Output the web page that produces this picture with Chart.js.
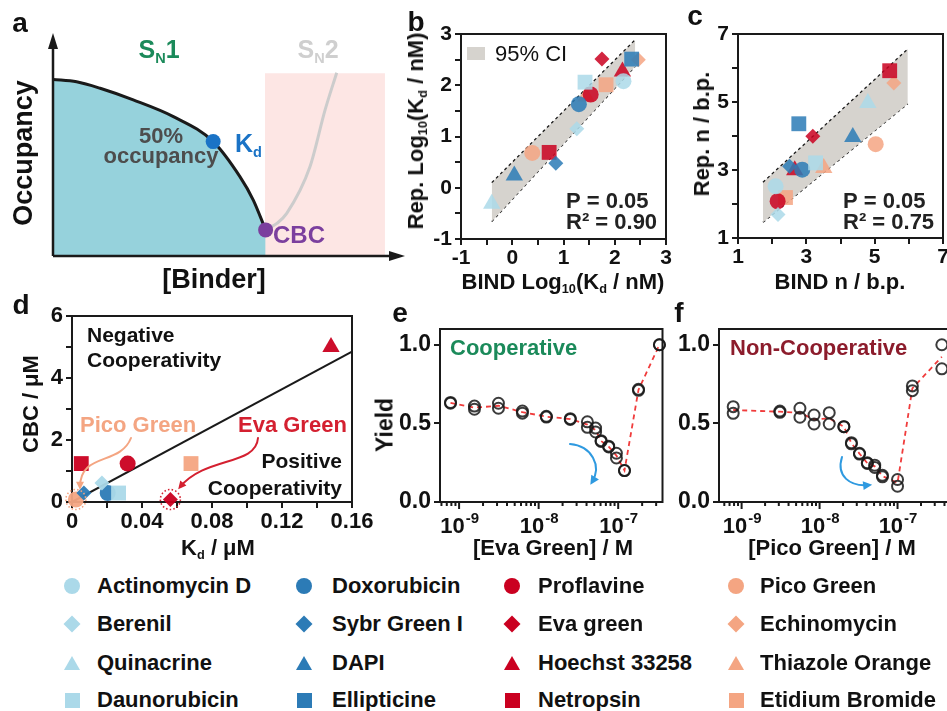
<!DOCTYPE html>
<html lang="en">
<head>
<meta charset="UTF-8">
<title>Binder cooperativity panels</title>
<script src="https://cdn.jsdelivr.net/npm/chart.js"></script>
<style>
  html, body { margin: 0; padding: 0; background: #fff; overflow: hidden; }
  body { width: 947px; height: 711px; position: relative; font-family: "Liberation Sans", Arial, sans-serif; font-weight: bold; color: #111; }
  .cv { position: absolute; }
  .lab { position: absolute; white-space: nowrap; line-height: 1; z-index: 5; }
  .lab sub { font-size: 0.58em; vertical-align: -0.32em; line-height: 0; }
  .mk { position: absolute; z-index: 5; }
</style>
</head>
<body>
<canvas id="pa" class="cv"></canvas>
<canvas id="pd" class="cv"></canvas>
<canvas id="pb" class="cv"></canvas>
<canvas id="pc" class="cv"></canvas>
<canvas id="pe" class="cv"></canvas>
<canvas id="pf" class="cv"></canvas>
<div id="labels"></div>

<script>
// ---------- data ----------
const compounds = ['Actinomycin D', 'Berenil', 'Quinacrine', 'Daunorubicin',
                   'Doxorubicin', 'Sybr Green I', 'DAPI', 'Ellipticine',
                   'Proflavine', 'Eva green', 'Hoechst 33258', 'Netropsin',
                   'Pico Green', 'Echinomycin', 'Thiazole Orange', 'Etidium Bromide'];

// panel a (schematic, axis units 0..1)
const sn1X = [0, 0.067, 0.134, 0.228, 0.342, 0.455, 0.531, 0.569, 0.604];
const sn1Y = [0.792, 0.781, 0.752, 0.70, 0.625, 0.513, 0.356, 0.251, 0.117];
const sn2X = [0.604, 0.636, 0.664, 0.730, 0.773, 0.806];
const sn2Y = [0.117, 0.146, 0.191, 0.40, 0.655, 0.822];
const sn2RegionX = [0.602, 0.943];
const sn2RegionTop = 0.82;
const kdPoint = [0.455, 0.513];
const cbcPoint = [0.604, 0.117];

// panel b: log10(Kd / nM)
const bindLogKd = [2.17, 1.26, -0.40, 1.42, 1.30, 0.85, 0.04, 2.33, 1.53, 1.75, 2.15, 0.72, 0.39, 2.46, 1.44, 1.83];
const repLogKd  = [2.08, 1.15, -0.31, 2.06, 1.63, 0.48, 0.24, 2.51, 1.82, 2.51, 2.27, 0.69, 0.68, 2.50, 1.78, 2.01];
const kdBandX  = [-0.40, 2.40];
const kdBandHi = [0.10, 2.89];
const kdBandLo = [-0.66, 2.37];

// panel c: n / b.p.
const bindN = [2.10, 2.17, 4.80, 3.27, 2.88, 2.51, 4.36, 2.78, 2.16, 3.19, 2.66, 5.44, 5.03, 5.56, 3.51, 2.39];
const repN  = [2.52, 1.69, 4.97, 3.21, 3.01, 3.11, 3.97, 4.36, 2.08, 3.99, 2.99, 5.92, 3.76, 5.56, 3.06, 2.19];
const nBandX  = [1.73, 5.97];
const nBandHi = [2.64, 6.56];
const nBandLo = [1.46, 4.95];

// panel d: Kd and CBC in uM (null = not plotted)
const kdUM  = [null, 0.0171, null, 0.0266, 0.0204, 0.0068, null, null, 0.0318, 0.0562, 0.148, 0.0053, 0.0022, null, null, 0.068];
const cbcUM = [null, 0.61, null, 0.29, 0.29, 0.29, null, null, 1.24, 0.08, 5.0, 1.24, 0.08, null, null, 1.24];
const parityKd  = [0, 0.16];
const parityCbc = [0, 4.85];

// panel e: Eva Green titration (M), two replicates
const evaConc = [7.8e-10, 1.56e-9, 3.125e-9, 6.25e-9, 1.25e-8, 2.5e-8, 4.1e-8, 5.2e-8, 6.1e-8, 7.6e-8, 9.5e-8, 1.2e-7, 1.8e-7, 3.3e-7];
const evaRep1 = [0.633, 0.61, 0.628, 0.578, 0.545, 0.53, 0.51, 0.47, 0.39, 0.355, 0.31, 0.20, 0.717, 1.0];
const evaRep2 = [0.628, 0.59, 0.596, 0.565, 0.54, 0.525, 0.475, 0.445, 0.385, 0.35, 0.28, 0.20, 0.71, 1.0];

// panel f: Pico Green titration (M), two replicates
const picoConc = [7.8e-10, 3.1e-9, 5.6e-9, 8.5e-9, 1.33e-8, 2.05e-8, 2.56e-8, 3.25e-8, 4.1e-8, 5.1e-8, 6.4e-8, 1.0e-7, 1.55e-7, 3.7e-7];
const picoRep1 = [0.606, 0.578, 0.596, 0.553, 0.568, 0.479, 0.377, 0.31, 0.249, 0.234, 0.17, 0.143, 0.738, 1.0];
const picoRep2 = [0.564, 0.57, 0.539, 0.496, 0.496, 0.479, 0.37, 0.305, 0.245, 0.22, 0.16, 0.10, 0.708, 0.847];

// tick values
const bTicks = [-1, -0.5, 0, 0.5, 1, 1.5, 2, 2.5, 3];
const cTicks = [1, 2, 3, 4, 5, 6, 7];
const dXTicks = [0, 0.02, 0.04, 0.06, 0.08, 0.10, 0.12, 0.14, 0.16];
const dYTicks = [0, 1, 2, 3, 4, 5, 6];
const yieldTicks = [0, 0.5, 1.0];

// ---------- styles ----------
const FONT = '"Liberation Sans", Arial, sans-serif';
Chart.defaults.font.family = FONT;
const groupColors = ['#abd9e9', '#2c7bb6', '#ca0020', '#f4a582'];
const shapes = ['circle', 'rectRot', 'triangle', 'rect'];
const shapeSize = { circle: 8, rectRot: 7.5, triangle: 10, rect: 10.5 };
const bandColor = '#d6d3ce';
const ink = '#1a1a1a';

function rgba(hex, a) {
  const n = parseInt(hex.slice(1), 16);
  return 'rgba(' + (n >> 16) + ',' + ((n >> 8) & 255) + ',' + (n & 255) + ',' + a + ')';
}
function pts(xs, ys) { return xs.map((x, i) => ({ x: x, y: ys[i] })); }

function markerSets(xs, ys, alpha) {
  const sets = [];
  compounds.forEach((name, i) => {
    if (xs[i] == null || ys[i] == null) return;
    const shape = shapes[i % 4];
    const col = rgba(groupColors[Math.floor(i / 4)], alpha);
    sets.push({ type: 'scatter', label: name, data: [{ x: xs[i], y: ys[i] }],
      pointStyle: shape, pointRadius: shapeSize[shape], pointHoverRadius: shapeSize[shape],
      backgroundColor: col, borderColor: col, borderWidth: 0, order: 1, clip: false });
  });
  return sets;
}

function linAxis(min, max, ticks, labelFn, fit, isX, size) {
  return {
    type: 'linear', min: min, max: max,
    afterBuildTicks: s => { s.ticks = ticks.map(v => ({ value: v })); },
    ticks: { callback: labelFn, font: { size: size || 21, weight: 'bold' }, color: '#111',
             padding: isX ? 1 : 3, autoSkip: false, maxRotation: 0 },
    grid: { drawOnChartArea: false, drawTicks: true, tickLength: 6, color: ink, lineWidth: 2 },
    border: { display: false },
    afterFit: s => { if (isX) s.height = fit; else s.width = fit; }
  };
}

function setup(id, left, top, w, h) {
  const c = document.getElementById(id);
  c.width = w; c.height = h;
  c.style.left = left + 'px'; c.style.top = top + 'px';
  c.style.width = w + 'px'; c.style.height = h + 'px';
  return c;
}

function baseOptions(pad, scales) {
  return { responsive: false, animation: false, events: [],
           layout: { padding: pad },
           plugins: { legend: { display: false }, tooltip: { enabled: false } },
           scales: scales };
}

const framePlugin = {
  id: 'frame',
  beforeDatasetsDraw(chart) {
    const { ctx, chartArea: a } = chart;
    ctx.save();
    ctx.strokeStyle = ink; ctx.lineWidth = 2;
    ctx.strokeRect(a.left, a.top, a.right - a.left, a.bottom - a.top);
    ctx.restore();
  }
};

// draws in page coordinates
function overlay(left, top, draw) {
  return { id: 'overlay', afterDraw(chart) {
    const ctx = chart.ctx;
    ctx.save(); ctx.translate(-left, -top); draw(ctx, chart); ctx.restore();
  } };
}

function curvedArrow(ctx, p, color, width, head) {
  const [x0, y0, x1, y1, x2, y2, x3, y3] = p;
  ctx.save();
  ctx.strokeStyle = color; ctx.fillStyle = color; ctx.lineWidth = width; ctx.lineCap = 'round';
  ctx.beginPath(); ctx.moveTo(x0, y0); ctx.bezierCurveTo(x1, y1, x2, y2, x3, y3); ctx.stroke();
  const ang = Math.atan2(y3 - y2, x3 - x2);
  const c = Math.cos(ang), s = Math.sin(ang);
  const tx = x3 + c * head * 0.35, ty = y3 + s * head * 0.35;
  ctx.beginPath();
  ctx.moveTo(tx, ty);
  ctx.lineTo(tx - c * head + s * head * 0.5, ty - s * head - c * head * 0.5);
  ctx.lineTo(tx - c * head - s * head * 0.5, ty - s * head + c * head * 0.5);
  ctx.closePath(); ctx.fill();
  ctx.restore();
}

function text(ctx, str, x, y, size, color, align, weight) {
  ctx.font = (weight || 'bold') + ' ' + size + 'px ' + FONT;
  ctx.fillStyle = color; ctx.textAlign = align || 'left'; ctx.textBaseline = 'alphabetic';
  ctx.fillText(str, x, y);
}

function logTicks(decades) {
  return { id: 'logTicks', afterDraw(chart) {
    const { ctx, chartArea: a, scales: { x } } = chart;
    ctx.save();
    ctx.strokeStyle = ink; ctx.lineWidth = 2; ctx.fillStyle = '#111';
    decades.forEach(d => {
      for (let k = 1; k < 10; k++) {
        const v = k * Math.pow(10, d);
        if (v < x.min || v > x.max) continue;
        const px = x.getPixelForValue(v);
        ctx.beginPath(); ctx.moveTo(px, a.bottom); ctx.lineTo(px, a.bottom + (k === 1 ? 7 : 4)); ctx.stroke();
        if (k === 1) {
          ctx.font = 'bold 22px ' + FONT;
          const w1 = ctx.measureText('10').width;
          ctx.font = 'bold 15px ' + FONT;
          const w2 = ctx.measureText(String(d)).width;
          const x0 = px - (w1 + w2) / 2;
          text(ctx, '10', x0, a.bottom + 31, 22, '#111');
          text(ctx, String(d), x0 + w1 + 1, a.bottom + 21, 15, '#111');
        }
      }
    });
    ctx.restore();
  } };
}

// ---------- panel a ----------
(function () {
  const L = 0, T = 0;
  const cv = setup('pa', L, T, 420, 300);
  new Chart(cv, {
    type: 'line',
    data: { datasets: [
      { data: [{ x: kdPoint[0], y: kdPoint[1] }], type: 'scatter', pointRadius: 7.5,
        backgroundColor: '#1a73c6', borderWidth: 0, order: 0, clip: false },
      { data: [{ x: cbcPoint[0], y: cbcPoint[1] }], type: 'scatter', pointRadius: 7.5,
        backgroundColor: '#7b3f9e', borderWidth: 0, order: 0, clip: false },
      { data: pts(sn1X, sn1Y), borderColor: ink, borderWidth: 3, backgroundColor: '#96d2dc',
        fill: 'origin', pointRadius: 0, cubicInterpolationMode: 'monotone', order: 2 },
      { data: pts(sn2X, sn2Y), borderColor: '#cccccc', borderWidth: 3, fill: false,
        pointRadius: 0, cubicInterpolationMode: 'monotone', order: 3 },
      { data: sn2RegionX.map(x => ({ x: x, y: sn2RegionTop })), borderWidth: 0,
        backgroundColor: '#fde6e4', fill: 'origin', pointRadius: 0, order: 4 }
    ] },
    options: baseOptions({ left: 53, top: 33, right: 15, bottom: 44 }, {
      x: { type: 'linear', min: 0, max: 1, display: false },
      y: { type: 'linear', min: 0, max: 1, display: false }
    }),
    plugins: [{ id: 'axesArrows', afterDraw(chart) {
      const { ctx, chartArea: a } = chart;
      ctx.save();
      ctx.strokeStyle = ink; ctx.fillStyle = ink; ctx.lineWidth = 2.5;
      ctx.beginPath(); ctx.moveTo(a.left, a.bottom); ctx.lineTo(a.left, a.top + 12);
      ctx.moveTo(a.left, a.bottom); ctx.lineTo(a.right - 12, a.bottom); ctx.stroke();
      ctx.beginPath(); ctx.moveTo(a.left, a.top); ctx.lineTo(a.left - 5, a.top + 16); ctx.lineTo(a.left + 5, a.top + 16); ctx.closePath(); ctx.fill();
      ctx.beginPath(); ctx.moveTo(a.right, a.bottom); ctx.lineTo(a.right - 16, a.bottom - 5); ctx.lineTo(a.right - 16, a.bottom + 5); ctx.closePath(); ctx.fill();
      ctx.restore();
    } }]
  });
})();

// ---------- panel b ----------
(function () {
  const L = 370, T = 0;
  const cv = setup('pb', L, T, 310, 300);
  new Chart(cv, {
    type: 'scatter',
    data: { datasets: [
      { type: 'line', data: pts(kdBandX, kdBandHi), borderColor: ink, borderWidth: 1.3,
        borderDash: [3, 3], pointRadius: 0, fill: '+1', backgroundColor: bandColor, order: 2 },
      { type: 'line', data: pts(kdBandX, kdBandLo), borderColor: ink, borderWidth: 1.3,
        borderDash: [3, 3], pointRadius: 0, fill: false, order: 2 }
    ].concat(markerSets(bindLogKd, repLogKd, 0.85)) },
    options: baseOptions({ left: 0, top: 34, right: 14, bottom: 0 }, {
      x: linAxis(-1, 3, bTicks, v => Number.isInteger(v) ? String(v) : '', 61, true),
      y: linAxis(-1, 3, bTicks, v => Number.isInteger(v) ? String(v) : '', 91, false)
    }),
    plugins: [framePlugin, overlay(L, T, ctx => {
      ctx.fillStyle = bandColor; ctx.fillRect(467, 47, 18, 13);
      text(ctx, '95% CI', 495, 61, 22, '#111', 'left', 'normal');
      text(ctx, 'P = 0.05', 566, 208, 22, '#222');
      text(ctx, 'R\u00b2 = 0.90', 566, 229, 22, '#222');
    })]
  });
})();

// ---------- panel c ----------
(function () {
  const L = 650, T = 0;
  const cv = setup('pc', L, T, 310, 300);
  new Chart(cv, {
    type: 'scatter',
    data: { datasets: [
      { type: 'line', data: pts(nBandX, nBandHi), borderColor: ink, borderWidth: 1.3,
        borderDash: [3, 3], pointRadius: 0, fill: '+1', backgroundColor: bandColor, order: 2 },
      { type: 'line', data: pts(nBandX, nBandLo), borderColor: ink, borderWidth: 1.3,
        borderDash: [3, 3], pointRadius: 0, fill: false, order: 2 }
    ].concat(markerSets(bindN, repN, 0.85)) },
    options: baseOptions({ left: 0, top: 34, right: 17, bottom: 0 }, {
      x: linAxis(1, 7, cTicks, v => v % 2 ? String(v) : '', 62, true),
      y: linAxis(1, 7, cTicks, v => v % 2 ? String(v) : '', 88, false)
    }),
    plugins: [framePlugin, overlay(L, T, ctx => {
      text(ctx, 'P = 0.05', 843, 208, 22, '#222');
      text(ctx, 'R\u00b2 = 0.75', 843, 229, 22, '#222');
    })]
  });
})();

// ---------- panel d ----------
(function () {
  const L = 0, T = 290;
  const cv = setup('pd', L, T, 400, 270);
  new Chart(cv, {
    type: 'scatter',
    data: { datasets: [
      { type: 'line', data: pts(parityKd, parityCbc), borderColor: ink, borderWidth: 2,
        pointRadius: 0, fill: false, order: 2 }
    ].concat(markerSets(kdUM, cbcUM, 0.95)) },
    options: baseOptions({ left: 0, top: 26, right: 48, bottom: 0 }, {
      x: linAxis(0, 0.16, dXTicks, (v, i) => i % 2 ? '' : (v === 0 ? '0' : v.toFixed(2)), 58, true, 22),
      y: linAxis(0, 6, dYTicks, v => v % 2 ? '' : String(v), 72, false, 22)
    }),
    plugins: [framePlugin, overlay(L, T, (ctx, chart) => {
      const { x, y } = chart.scales;
      const rings = [[12, '#f4a582'], [9, '#d42030']];
      rings.forEach(([i, col]) => {
        ctx.save();
        ctx.strokeStyle = col; ctx.lineWidth = 1.6; ctx.setLineDash([1.5, 2.2]);
        ctx.beginPath();
        ctx.arc(x.getPixelForValue(kdUM[i]) + L, y.getPixelForValue(cbcUM[i]) + T, 10, 0, Math.PI * 2);
        ctx.stroke(); ctx.restore();
      });
      text(ctx, 'Negative', 87, 342, 21, '#111');
      text(ctx, 'Cooperativity', 87, 367, 21, '#111');
      text(ctx, 'Positive', 342, 468, 21, '#111', 'right');
      text(ctx, 'Cooperativity', 342, 495, 21, '#111', 'right');
      text(ctx, 'Pico Green', 80, 432, 22, '#f4a582');
      text(ctx, 'Eva Green', 238, 432, 22, '#d42030');
      curvedArrow(ctx, [131, 438, 120, 466, 80, 452, 80, 487], '#f4a582', 2, 8);
      curvedArrow(ctx, [258, 438, 256, 466, 206, 456, 180, 487], '#d42030', 2, 8);
    })]
  });
})();

// ---------- panels e & f ----------
function titration(id, L, conc, r1, r2, xmin, xmax, yFit, label, labelX, labelColor, arrow) {
  const T = 300;
  const cv = setup(id, L, T, 300, 260);
  const mean = r1.map((v, i) => (v + r2[i]) / 2);
  const open = { type: 'scatter', pointStyle: 'circle', pointRadius: 5.5, pointHoverRadius: 5.5,
                 backgroundColor: 'rgba(0,0,0,0)', borderColor: 'rgba(25,25,25,0.85)',
                 borderWidth: 2, order: 1, clip: false };
  new Chart(cv, {
    type: 'scatter',
    data: { datasets: [
      Object.assign({ data: pts(conc, r1) }, open),
      Object.assign({ data: pts(conc, r2) }, open),
      { type: 'line', data: pts(conc, mean), borderColor: '#f03c3c', borderWidth: 1.8,
        borderDash: [5, 4], pointRadius: 0, fill: false, order: 2 }
    ] },
    options: baseOptions({ left: 0, top: 29, right: 0, bottom: 58 }, {
      x: { type: 'logarithmic', min: xmin, max: xmax, display: false },
      y: linAxis(0, 1.1, yieldTicks, v => v.toFixed(1), yFit, false, 23)
    }),
    plugins: [framePlugin, logTicks([-10, -9, -8, -7]), overlay(L, T, ctx => {
      text(ctx, label, labelX, 355, 22, labelColor);
      curvedArrow(ctx, arrow, '#2f9ae0', 2, 9);
    })]
  });
}
titration('pe', 370, evaConc, evaRep1, evaRep2, Math.pow(10, -9.24), Math.pow(10, -6.443), 70,
          'Cooperative', 450, '#1b8a5a', [570, 444, 592, 446, 602, 466, 592, 482]);
titration('pf', 660, picoConc, picoRep1, picoRep2, Math.pow(10, -9.29), Math.pow(10, -6.295), 59,
          'Non-Cooperative', 730, '#8c1c2c', [842, 457, 836, 476, 850, 487, 869, 485]);

// ---------- html text: panel letters, axis titles, legend ----------
const host = document.getElementById('labels');
function lab(html, x, y, size, o) {
  o = o || {};
  const el = document.createElement('div');
  el.className = 'lab';
  el.innerHTML = html;
  el.style.fontSize = size + 'px';
  el.style.color = o.color || '#111';
  el.style.left = x + 'px';
  if (o.rotate) {
    el.style.top = y + 'px';
    el.style.transform = 'translate(-50%,-50%) rotate(-90deg)';
  } else {
    el.style.top = (y - 0.8465 * size) + 'px';
    el.style.transform = o.align === 'left' ? 'none' : 'translateX(-50%)';
  }
  host.appendChild(el);
}

// panel letters
lab('a', 20, 33, 28); lab('b', 416, 32, 28); lab('c', 695, 26, 28);
lab('d', 21, 315, 28); lab('e', 400, 323, 28); lab('f', 679, 323, 28);

// panel a text
lab('S<sub>N</sub>1', 159, 58, 25, { color: '#1b8a5a' });
lab('S<sub>N</sub>2', 318, 58, 25, { color: '#cfcfcf' });
lab('50%', 161, 144, 22, { color: '#4d4d4d' });
lab('occupancy', 161, 163.5, 22, { color: '#4d4d4d' });
lab('K<sub>d</sub>', 235, 152, 25, { color: '#1a73c6', align: 'left' });
lab('CBC', 273, 243, 24, { color: '#7b3f9e', align: 'left' });
lab('[Binder]', 214, 289, 27);
lab('Occupancy', 23, 153, 27, { rotate: true });

// axis titles
lab('Rep. Log<sub>10</sub>(K<sub>d</sub> / nM)', 416, 131, 22, { rotate: true });
lab('BIND Log<sub>10</sub>(K<sub>d</sub> / nM)', 563, 290, 22);
lab('Rep. n / b.p.', 702, 134, 22, { rotate: true });
lab('BIND n / b.p.', 840, 290, 22);
lab('CBC / \u03bcM', 31, 404, 22, { rotate: true });
lab('K<sub>d</sub> / \u03bcM', 218, 556, 22);
lab('Yield', 385, 425, 23, { rotate: true });
lab('[Eva Green] / M', 553, 556, 22);
lab('[Pico Green] / M', 832, 556, 22);

// legend
const legMarkerX = [72, 304, 512, 736];
const legTextX = [97, 332, 538, 760];
const legBase = [594, 632, 671, 708];
compounds.forEach((name, i) => {
  const col = Math.floor(i / 4), row = i % 4;
  const color = groupColors[col];
  const shape = shapes[row];
  const cx = legMarkerX[col], cy = legBase[row] - 8;
  const m = document.createElement('div');
  m.className = 'mk';
  if (shape === 'circle') {
    Object.assign(m.style, { width: '16px', height: '16px', borderRadius: '50%', background: color, left: (cx - 8) + 'px', top: (cy - 8) + 'px' });
  } else if (shape === 'rectRot') {
    Object.assign(m.style, { width: '12px', height: '12px', background: color, left: (cx - 6) + 'px', top: (cy - 6) + 'px', transform: 'rotate(45deg)' });
  } else if (shape === 'triangle') {
    Object.assign(m.style, { width: '0', height: '0', borderLeft: '8px solid transparent', borderRight: '8px solid transparent', borderBottom: '14px solid ' + color, left: (cx - 8) + 'px', top: (cy - 7) + 'px' });
  } else {
    Object.assign(m.style, { width: '15px', height: '15px', background: color, left: (cx - 7.5) + 'px', top: (cy - 7.5) + 'px' });
  }
  host.appendChild(m);
  lab(name, legTextX[col], legBase[row], 22, { align: 'left' });
});
</script>
</body>
</html>
